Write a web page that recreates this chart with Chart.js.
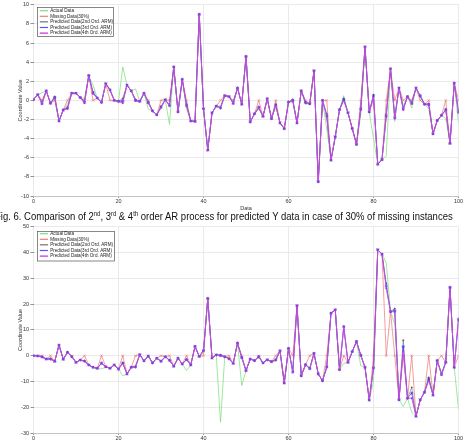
<!DOCTYPE html>
<html><head><meta charset="utf-8">
<script src="https://cdn.jsdelivr.net/npm/chart.js@4.4.0/dist/chart.umd.min.js"></script>
<style>
html,body{margin:0;padding:0;background:#fff;width:467px;height:444px;overflow:hidden;position:relative}
#w1{position:absolute;left:0;top:0;width:467px;height:212px}
#w2{position:absolute;left:0;top:222px;width:467px;height:232px}
#cap{position:absolute;top:210.3px;left:0;font-family:'Liberation Sans',Arial,sans-serif;font-size:10.6px;line-height:12px;white-space:nowrap;color:#111;transform-origin:0 0;display:inline-block}
#cap sup{font-size:0.62em;line-height:0;vertical-align:0.55em}
</style></head>
<body>
<div id="w1"><canvas id="c1" width="467" height="212"></canvas></div>
<div id="cap"><span id="capF">F</span>ig. 6. Comparison of 2<sup>nd</sup>, 3<sup>rd</sup> &amp; 4<sup>th</sup> order AR process for predicted Y data in case of 30% of missing instances</div>
<div id="w2"><canvas id="c2" width="467" height="232"></canvas></div>
<script>
// ---------- DATA: top chart (Y data) ----------
const seriesLabels = ['Actual Data','Missing Data(30%)','Predicted Data(2nd Ord. ARM)','Predicted Data(3rd Ord. ARM)','Predicted Data(4th Ord. ARM)'];
const topActual = [0.1,0.6,0.8,1.0,-0.3,0.5,-2.15,-1.0,-0.4,0.75,
 0.75,0.3,0.2,2.6,1.6,0.25,-0.2,1.75,1.2,0.0,
 -0.1,3.5,1.6,1.0,1.2,-0.1,0.75,-0.9,-1.1,-1.5,
 -0.8,0.07,-2.5,3.5,-1.2,2.2,-0.9,-2.15,-2.2,9.0,
 -0.87,-5.2,-1.3,-0.6,-0.6,0.5,0.4,-0.2,1.3,-0.4,
 4.6,-2.25,-1.4,-0.9,-1.67,0.17,-1.9,-0.7,-2.36,-2.95,
 -0.17,-0.2,-2.36,1.0,-0.4,-0.35,3.1,-8.5,0.0,-3.0,
 -6.25,-3.8,-0.97,0.5,-1.3,-2.95,-4.6,-1.5,5.6,-1.2,
 -4.0,-6.67,-6.2,-5.8,3.3,-2.2,1.3,-0.6,0.4,-0.8,
 1.3,0.3,-0.4,-0.9,-3.5,-2.1,-1.56,-1.9,-4.5,1.8,
 -2.4];
const topMissIdx = [2,5,8,12,14,18,21,24,27,30,32,36,44,47,53,57,61,64,69,73,77,80,83,85,87,89,91,93,97,100];
const topPred2 = [-0.2,0.4,-0.7,-0.1,0.9,1.1,0.2,0.1,-0.3,-0.6,-0.5,-0.4,-0.7,-0.2,-0.8,-0.4,0.1,-0.3,-1.4,0.2,-0.8,0.6,-1.4,-1.6,-0.8,-0.2,0.4,-0.5,-0.9,-1.0];
const topPred3 = [-0.3,0.3,-0.8,-0.2,0.8,1.1,-0.1,0.0,-0.2,-0.7,-0.5,-0.5,-0.8,-0.3,-0.7,-0.5,0.0,-0.2,-1.6,0.1,-0.9,0.5,-1.6,-1.8,-0.9,-0.3,0.5,-0.4,-1.0,-1.2];
const topPred4 = [-0.4,0.25,-0.9,-0.3,0.7,1.05,-0.3,-0.05,-0.17,-0.76,-0.6,-0.6,-0.8,-0.35,-0.7,-0.5,0.0,-0.17,-1.7,0.0,-1.0,0.35,-1.7,-1.9,-1.0,-0.35,0.5,-0.35,-1.0,-1.3];
const topYTicks = {min:-10, max:10, step:2};

// ---------- DATA: bottom chart ----------
const botActual = [0,-0.1,-0.3,-1.3,-0.9,-2.2,4.1,-1.4,1.3,-0.1,
 -2.6,-1.7,-1.9,-3.6,-4.5,-4.9,-5.2,-4.3,-4.9,-3.6,
 -5.2,-7.8,-7.1,-4.5,-3.8,0.4,-2.0,0.1,-2.8,-1.0,
 -1.8,-0.4,-1.5,-4.1,-1.0,-3.2,-5.8,-3.6,3.6,-0.3,
 1.2,22.2,-0.9,0.3,-25.8,-0.4,-1.0,-3.0,4.9,-11.6,
 -5.8,-1.3,-1.9,-0.8,-2.8,-1.6,-2.3,-2.2,1.9,-10.6,
 2.8,-5.9,19.4,-7.8,-3.5,-4.6,0.9,-7.1,-9.7,-5.0,
 16.5,17.8,-5.4,-3.0,-2.6,1.6,5.5,-3.9,-4.5,-17.2,
 -10.0,41.1,39.4,36.0,17.1,12.0,-17.1,-19.7,-16.5,-22.0,
 -23.5,-17.1,-14.2,-8.0,-15.3,-1.9,-6.5,-2.6,26.5,-4.5,
 -20.7];
const botMissIdx = [2,4,9,12,16,21,24,27,30,32,36,40,44,46,49,53,57,61,65,69,73,77,80,83,85,87,89,93,96,100];
const botPred2 = [-0.4,-1.2,-0.3,-2.0,-2.8,-2.7,-4.2,-0.1,-2.1,-1.7,-1.4,2.2,0.3,-1.1,-0.9,-0.5,-1.5,-6.0,-4.8,-4.2,11.0,0.4,-4.5,28.0,18.3,6.0,-12.3,-8.5,-7.0,13.5];
const botPred3 = [-0.5,-1.3,-0.4,-2.1,-2.9,-2.9,-4.4,-0.2,-2.2,-1.8,-1.5,2.0,0.1,-1.2,-0.7,-0.4,-1.6,-6.3,-5.0,-4.4,11.2,0.2,-4.7,27.0,17.5,3.5,-14.5,-9.0,-7.3,14.0];
const botPred4 = [-0.6,-1.4,-0.4,-2.2,-3.0,-3.0,-4.5,-0.2,-2.3,-1.9,-1.6,1.9,0.0,-1.3,-0.6,-0.3,-1.7,-6.5,-5.2,-4.5,11.4,0.0,-4.9,26.1,17.0,1.9,-16.5,-9.7,-7.5,14.5];
const botYTicks = {min:-30, max:50, step:10};
const missingFill = 0;

// ---------- helpers ----------
const F = "'Liberation Sans', Arial, sans-serif";
function fillAt(base, idx, vals){ const out = base.slice(); idx.forEach((k,j)=>{ out[k] = Array.isArray(vals) ? vals[j] : vals; }); return out; }
function pts(arr){ return arr.map((v,i)=>({x:i, y:v})); }

function buildDatasets(actual, idx, p2, p3, p4){
  return [
    {label:seriesLabels[0], data:pts(actual), borderColor:'#72e072', backgroundColor:'#72e072', borderWidth:0.7, pointRadius:0, order:5},
    {label:seriesLabels[1], data:pts(fillAt(actual, idx, missingFill)), borderColor:'#f07474', backgroundColor:'#f07474', borderWidth:0.7, pointStyle:'crossRot', pointRadius:1.7, pointBorderWidth:0.6, order:4},
    {label:seriesLabels[2], data:pts(fillAt(actual, idx, p2)), borderColor:'#555', backgroundColor:'#555', borderWidth:0.5, pointStyle:'circle', pointRadius:0.7, pointBorderWidth:0.4, order:3},
    {label:seriesLabels[3], data:pts(fillAt(actual, idx, p3)), borderColor:'#3a3aff', backgroundColor:'#3a3aff', borderWidth:0.7, pointStyle:'star', pointRadius:1.6, pointBorderWidth:0.6, order:2},
    {label:seriesLabels[4], data:pts(fillAt(actual, idx, p4)), borderColor:'#d64ae4', backgroundColor:'#d64ae4', borderWidth:0.9, pointStyle:'rect', pointRadius:0.95, pointBackgroundColor:'#9e38d6', pointBorderColor:'#9e38d6', pointBorderWidth:0.3, order:1}
  ];
}

function legendBoxPlugin(box, legendPos){
  return {
    id:'legendBox',
    afterLayout(chart){
      const lg = chart.legend;
      lg.left = legendPos.left; lg.top = legendPos.top;
      lg.right = legendPos.left + 100; lg.bottom = legendPos.top + 60;
      lg.width = 100; lg.height = 60;
    },
    afterDraw(chart){
      const ctx = chart.ctx;
      ctx.save();
      ctx.fillStyle = '#fff';
      ctx.fillRect(box.x, box.y, box.w, box.h);
      ctx.strokeStyle = '#555';
      ctx.lineWidth = 0.7;
      ctx.strokeRect(box.x, box.y, box.w, box.h);
      ctx.restore();
      chart.legend.draw();
    }
  };
}

function makeChart(id, datasets, yt, padTop, xAxisH, box, legendPos){
  return new Chart(document.getElementById(id), {
    type:'line',
    data:{datasets},
    options:{
      responsive:false, animation:false, devicePixelRatio:1,
      layout:{padding:{left:0, right:8.5, top:padTop, bottom:0}},
      elements:{line:{tension:0}},
      plugins:{
        tooltip:{enabled:false},
        legend:{position:'chartArea', align:'start',
          labels:{font:{family:F, size:4.6}, color:'#222', boxWidth:8, boxHeight:0.2, padding:1,
                  sort:(a,b)=>a.datasetIndex-b.datasetIndex}}
      },
      scales:{
        x:{type:'linear', min:0, max:100,
           afterFit:s=>{ s.height = xAxisH; },
           ticks:{stepSize:20, font:{family:F, size:5.5}, color:'#333', padding:0, maxRotation:0, autoSkip:false},
           grid:{color:'#e4e4e4', lineWidth:0.8, tickLength:2, tickColor:'#777'},
           border:{display:true, color:'#bbb', width:0.8},
           title:{display:true, text:'Data', font:{family:F, size:5.5}, color:'#333', padding:{top:0, bottom:0.4}}},
        y:{min:yt.min, max:yt.max,
           afterFit:s=>{ s.width = 33.5; },
           ticks:{stepSize:yt.step, font:{family:F, size:5.5}, color:'#333', padding:1.5},
           grid:{color:'#e4e4e4', lineWidth:0.8, tickLength:3, tickColor:'#777'},
           border:{display:false},
           title:{display:true, text:'Coordinate Value', font:{family:F, size:5.5}, color:'#333', padding:{top:16.7, bottom:0}}}
      }
    },
    plugins:[legendBoxPlugin(box, legendPos)]
  });
}

makeChart('c1', buildDatasets(topActual, topMissIdx, topPred2, topPred3, topPred4), topYTicks, 4, 16,
  {x:37.5, y:7.5, w:76, h:29}, {left:38.9, top:7.4});
makeChart('c2', buildDatasets(botActual, botMissIdx, botPred2, botPred3, botPred4), botYTicks, 4.7, 21,
  {x:37.5, y:9.5, w:77, h:29.5}, {left:38.9, top:8.4});

(function fitCaption(){
  const cap = document.getElementById('cap');
  const f = document.getElementById('capF');
  const W = cap.getBoundingClientRect().width;
  const wF = f.getBoundingClientRect().width;
  const s = (452.7 - 0.8) / (W - wF);
  cap.style.transform = 'scaleX(' + s + ')';
  cap.style.left = (0.8 - wF * s) + 'px';
})();
</script>
</body></html>
